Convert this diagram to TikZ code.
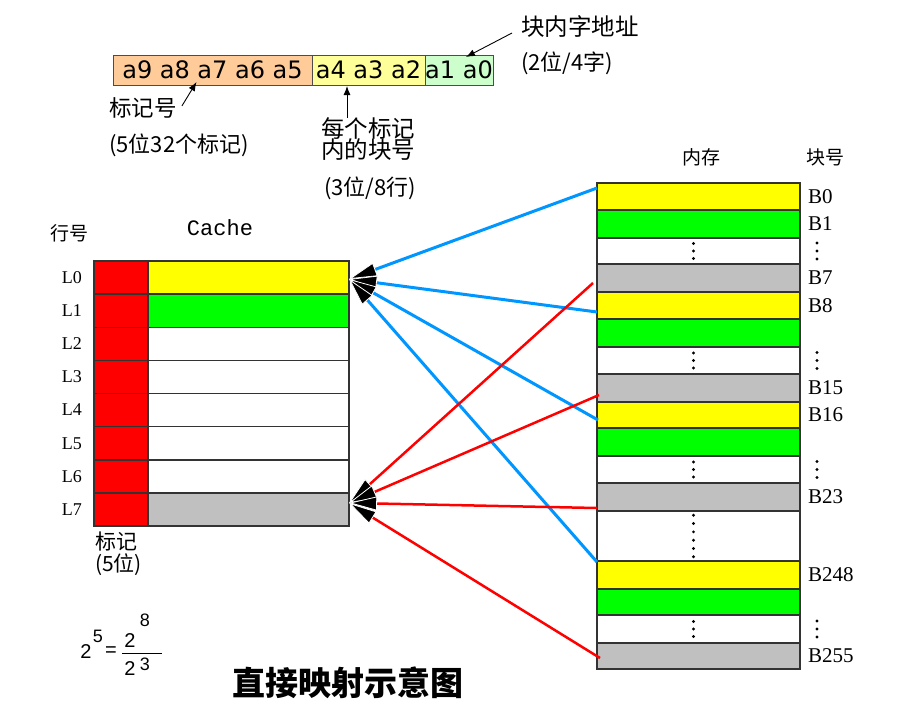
\documentclass[tikz,border=0pt]{standalone}
\usepackage{fontspec}
\setmainfont{Liberation Sans}
\newfontfamily\cjk{Noto Sans CJK SC}
\newfontfamily\barfont{DejaVu Sans}
\newfontfamily\pixserif{Liberation Serif}
\newfontfamily\pixmono{Liberation Mono}
\usetikzlibrary{positioning,calc,arrows.meta}

\definecolor{memyellow}{RGB}{255,255,0}
\definecolor{memgreen}{RGB}{0,255,0}
\definecolor{memgray}{RGB}{192,192,192}
\definecolor{tagred}{RGB}{255,0,0}
\definecolor{barorange}{RGB}{255,204,153}
\definecolor{baryellow}{RGB}{255,255,153}
\definecolor{bargreen}{RGB}{204,255,204}
\definecolor{linkblue}{RGB}{0,150,255}

\tikzset{
  cell/.style={draw=black!80, line width=1.5pt, inner sep=0pt, outer sep=0pt},
  seg/.style={draw=black!70, line width=0.8pt, inner sep=0pt, outer sep=0pt,
    minimum height=30pt, font=\barfont\fontsize{24}{26}\selectfont},
  cjklabel/.style={font=\cjk\fontsize{#1}{#1}\selectfont, inner sep=0pt},
  cjklabel/.default=19,
  llabel/.style={font=\pixserif\fontsize{18}{18}\selectfont, inner sep=0pt},
  blabel/.style={font=\pixserif\fontsize{21}{21}\selectfont, inner sep=0pt},
  digit/.style={font=\fontsize{20}{20}\selectfont, inner sep=0pt},
  ptr/.style={-{Latex[length=9pt,width=7pt]}, line width=0.9pt},
  bighead/.style={-{Triangle[length=28pt,width=14pt,fill=black,color=white,line width=0.8pt]}},
  bluearrow/.style={draw=linkblue, line width=3pt, bighead},
  redarrow/.style={draw=tagred, line width=2.5pt, bighead}
}

\begin{document}
\begin{tikzpicture}[x=1pt,y=-1pt]
  \useasboundingbox (0,0) rectangle (901,705);

  % address fields
  \node[seg, fill=barorange, minimum width=199pt] (tbox) at (212.5,70) {a9 a8 a7 a6 a5};
  \node[seg, fill=baryellow, minimum width=113pt, right=0pt of tbox] (ybox) {a4 a3 a2};
  \node[seg, fill=bargreen, minimum width=68pt, right=0pt of ybox] (wbox) {a1 a0};

  \node[cjklabel=23.5, anchor=west] (wordlbl) at (521,27) {块内字地址};
  \node[cjklabel=22, anchor=west] (wordbits) at (521,63) {(2位/4字)};
  \draw[ptr] ($(wordlbl.west)+(-9,6)$) -- ($(wbox.north)+(7,2)$);

  \node[cjklabel=22.5, anchor=west] (taglbl) at (109,108) {标记号};
  \node[cjklabel=22, anchor=west] (tagbits) at (109,145) {(5位32个标记)};
  \draw[ptr] ($(taglbl.east)+(5,-2)$) -- ($(tbox.south)+(-16,-3)$);

  \node[cjklabel=23.5, align=center] (rowlbl) at (368,139) {每个标记\\[-2pt]内的块号};
  \node[cjklabel=22] (rowbits) at (370,188) {(3位/8行)};
  \draw[ptr] ($(ybox.south)+(-21.5,33)$) -- ($(ybox.south)+(-21.5,1)$);

  % cache
  \node[cjklabel] (linehdr) at (69,233) {行号};
  \node[font=\pixmono\fontsize{22}{22}\selectfont, inner sep=0pt] (cachehdr) at (220,228) {Cache};
  \foreach \i/\col in {0/memyellow,1/memgreen,2/white,3/white,4/white,5/white,6/white,7/memgray} {
    \node[cell, fill=tagred, minimum width=54pt, minimum height=33.125pt] (t\i) at (121,{277.56+33.125*\i}) {};
    \node[cell, fill=\col, minimum width=201pt, minimum height=33.125pt, right=0pt of t\i] (c\i) {};
    \node[llabel, left=12pt of t\i] {L\i};
  }
  \node[cjklabel=21, align=left, anchor=north west] (taglegend) at ($(t7.south west)+(1,6)$) {标记\\[1pt](5位)};
  \coordinate (tip0) at ($(c0.east)+(0,1.5)$);
  \coordinate (tip7) at ($(c7.east)+(0,-6.5)$);

  % main memory
  \node[cjklabel] (memhdr) at (701,157) {内存};
  \node[cjklabel] (blkhdr) at (825,157) {块号};
  \foreach \nm/\ya/\yb/\col in {b0/183/210/memyellow, b1/210/238/memgreen, d1/238/264/white,
      b7/264/292/memgray, b8/292/319/memyellow, b9/319/347/memgreen, d2/347/374/white,
      b15/374/402/memgray, b16/402/428/memyellow, b17/428/456/memgreen, d3/456/483/white,
      b23/483/511/memgray, d4/511/561/white, b248/561/589/memyellow, b249/589/615/memgreen,
      d5/615/643/white, b255/643/669/memgray}
    \node[cell, fill=\col, minimum width=203pt, minimum height={(\yb-\ya)*1pt}] (\nm) at (698.5,{(\ya+\yb)/2}) {};
  \foreach \nm/\txt in {b0/B0,b1/B1,b7/B7,b8/B8,b15/B15,b16/B16,b23/B23,b248/B248,b255/B255}
    \node[blabel, right=8pt of \nm] {\txt};
  % dots
  \foreach \nm in {d1,d2,d3,d5} {
    \foreach \k in {-1,0,1} {
      \fill ($(\nm.center)+(-5,\k*7.5)$) circle (1.6pt);
      \fill ($(\nm.center)+(118.5,\k*8)$) circle (1.6pt);
    }
  }
  \foreach \k in {0,...,5}
    \fill ($(d4.center)+(-5,{(\k-2.5)*8.3})$) circle (1.6pt);

  % mapping
  \draw[bluearrow] ($(b0.west)+(0,-8.5)$) -- (tip0);
  \draw[bluearrow] ($(b8.west)+(0,6.5)$) -- (tip0);
  \draw[bluearrow] ($(b16.west)+(1,5)$) -- (tip0);
  \draw[bluearrow] ($(b248.west)+(0,-13)$) -- (tip0);
  \draw[redarrow] ($(b7.west)+(-4,5)$) -- (tip7);
  \draw[redarrow] ($(b15.west)+(2,7)$) -- (tip7);
  \draw[redarrow] ($(b23.west)+(0,11)$) -- (tip7);
  \draw[redarrow] ($(b255.west)+(3,2)$) -- (tip7);

  % formula
  \node[digit] (f2) at (86,652) {2};
  \node[digit, font=\fontsize{18}{18}\selectfont] (f5) at (98,636) {5};
  \node[digit] (feq) at (111,652) {=};
  \node[digit] (fn2) at (130,641) {2};
  \node[digit, font=\fontsize{18}{18}\selectfont] (fn8) at (145,620) {8};
  \node[digit] (fd2) at (130,669) {2};
  \node[digit, font=\fontsize{18}{18}\selectfont] (fd3) at (145,664) {3};
  \draw[line width=1pt] (122,653) -- (162,653);

  \node[font=\cjk\bfseries\fontsize{33}{33}\selectfont, inner sep=0pt] (title) at (347.5,683) {直接映射示意图};
\end{tikzpicture}
\end{document}
